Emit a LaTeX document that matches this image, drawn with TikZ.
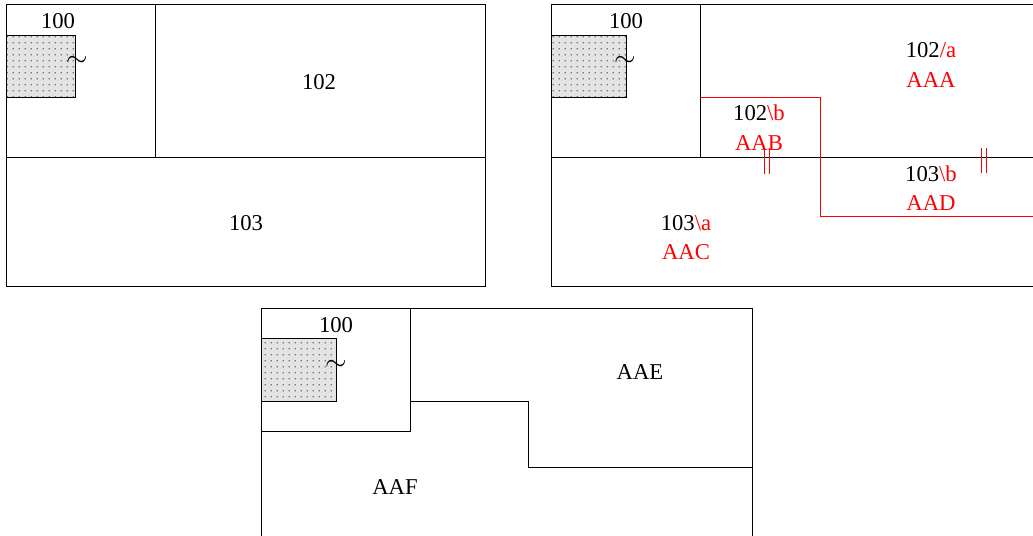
\documentclass[tikz,border=0pt]{standalone}
\usepackage{fontspec}
\setmainfont{Liberation Serif}
\usetikzlibrary{patterns}
\pgfdeclarepatternformonly{sparsedots}{\pgfpointorigin}{\pgfqpoint{4.5pt}{4.5pt}}{\pgfqpoint{4.5pt}{4.5pt}}{%
  \pgfpathcircle{\pgfqpoint{1pt}{1pt}}{0.55pt}\pgfusepath{fill}}
\begin{document}
\begin{tikzpicture}[x=0.75pt,y=-0.75pt,
  wall/.style={draw=black,line width=0.65pt},
  redwall/.style={draw=red,line width=0.65pt},
  lbl/.style={font=\fontsize{17}{20}\selectfont,inner sep=0pt},
  rlbl/.style={lbl,text=red},
  dotbox/.style={draw=black,line width=0.65pt,fill=gray!22},
  tld/.style={font=\fontsize{20}{22}\selectfont,inner sep=0pt}]
\useasboundingbox (0,0) rectangle (1033,536);
% ---------- panel 1 ----------
\draw[wall] (6,4) rectangle (485,286);
\draw[wall] (155,4) -- (155,157);
\draw[wall] (6,157) -- (485,157);
\draw[dotbox] (6,35) rectangle (75,97);
\fill[pattern=sparsedots,pattern color=black] (6,35) rectangle (75,97);
\node[lbl] (a100) at (58,21) {100};
\node[tld] (atl) at (77,61) {$\sim$};
\node[lbl] (a102) at (319,82) {102};
\node[lbl] (a103) at (246,223) {103};
% ---------- panel 2 ----------
\draw[wall] (1034,4) -- (551,4) -- (551,286) -- (1034,286);
\draw[wall] (700,4) -- (700,157);
\draw[wall] (551,157) -- (1034,157);
\draw[dotbox] (551,35) rectangle (626,97);
\fill[pattern=sparsedots,pattern color=black] (551,35) rectangle (626,97);
\node[lbl] (b100) at (626,21) {100};
\node[tld] (btl) at (625,61) {$\sim$};
\draw[redwall] (700,97) -- (820,97) -- (820,216) -- (1034,216);
\draw[red,line width=0.65pt] (764,148) -- (764,174) (769,148) -- (769,174);
\draw[red,line width=0.65pt] (981,148) -- (981,173) (986,148) -- (986,173);
\node[lbl] (b102a) at (931,50) {102\textcolor{red}{/a}};
\node[rlbl] (bAAA) at (931,80) {AAA};
\node[lbl] (b102b) at (759,113) {102\textcolor{red}{\textbackslash b}};
\node[rlbl] (bAAB) at (759,143) {AAB};
\node[lbl] (b103b) at (931,174) {103\textcolor{red}{\textbackslash b}};
\node[rlbl] (bAAD) at (931,203) {AAD};
\node[lbl] (b103a) at (686,223) {103\textcolor{red}{\textbackslash a}};
\node[rlbl] (bAAC) at (686,252) {AAC};
% ---------- panel 3 ----------
\draw[wall] (261,537) -- (261,308) -- (752,308) -- (752,537);
\draw[wall] (261,431) -- (410,431) -- (410,308);
\draw[wall] (410,401) -- (528,401) -- (528,467) -- (752,467);
\draw[dotbox] (261,338) rectangle (336,401);
\fill[pattern=sparsedots,pattern color=black] (261,338) rectangle (336,401);
\node[lbl] (c100) at (336,325) {100};
\node[tld] (ctl) at (336,365) {$\sim$};
\node[lbl] (cAAE) at (640,372) {AAE};
\node[lbl] (cAAF) at (395,487) {AAF};
\end{tikzpicture}
\end{document}
